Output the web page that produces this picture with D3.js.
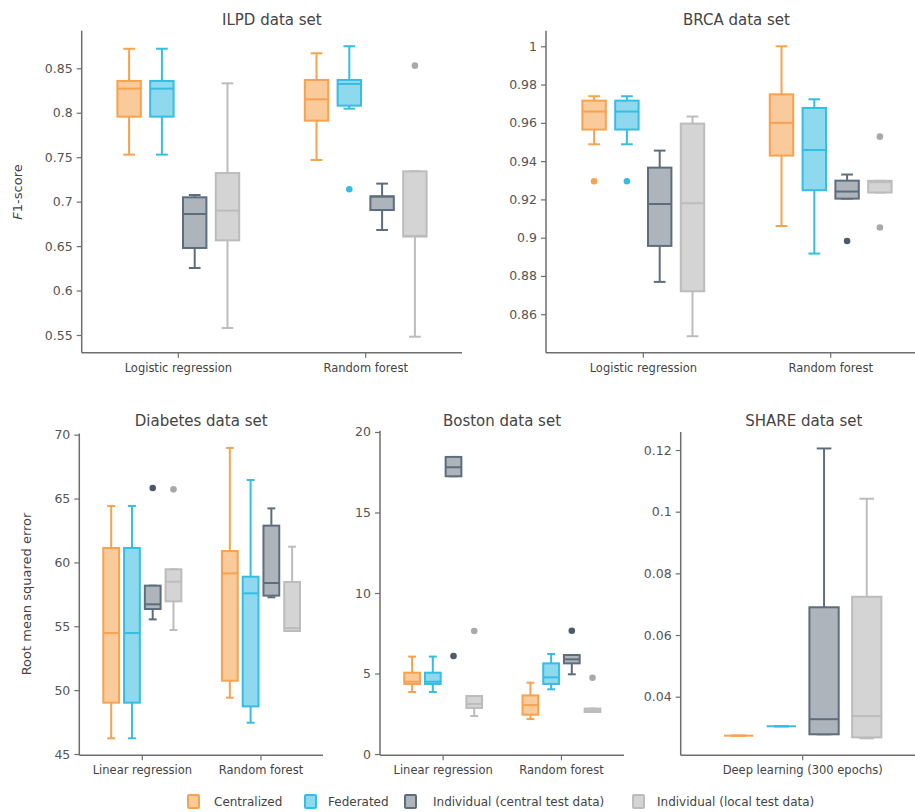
<!DOCTYPE html>
<html>
<head>
<meta charset="utf-8">
<script src="https://cdn.jsdelivr.net/npm/d3@7"></script>
<style>
  html, body { margin: 0; padding: 0; background: #fff; }
  svg { display: block; font-family: "DejaVu Sans", Verdana, sans-serif; }
</style>
</head>
<body>
<svg id="chart" width="915" height="812"></svg>
<script>
// ---- Data: box summaries [lower whisker, Q1, median, Q3, upper whisker] ----
const series = ["Centralized", "Federated", "Individual (central test data)", "Individual (local test data)"];

const classMethods = ["Logistic regression", "Random forest"];
const regMethods = ["Linear regression", "Random forest"];
const dlMethods = ["Deep learning (300 epochs)"];

// ILPD (F1-score); one row per method, one entry per series
const ilpdStats = [
  [[0.7529, 0.7956, 0.8271, 0.8358, 0.8720], [0.7529, 0.7956, 0.8271, 0.8358, 0.8720],
   [0.6254, 0.6479, 0.6861, 0.7049, 0.7075], [0.5579, 0.6565, 0.6899, 0.7322, 0.8331]],
  [[0.7469, 0.7911, 0.8151, 0.8369, 0.8669], [0.8046, 0.8080, 0.8324, 0.8369, 0.8748],
   [0.6681, 0.6906, 0.7057, 0.7060, 0.7203], [0.5481, 0.6607, 0.6615, 0.7341, 0.7341]]
];
const ilpdOutliers = [
  [[], [], [], []],
  [[], [0.7139], [], [0.8530]]
];

// BRCA (F1-score)
const brcaStats = [
  [[0.9488, 0.9565, 0.9659, 0.9716, 0.9739], [0.9488, 0.9565, 0.9659, 0.9716, 0.9739],
   [0.8769, 0.8957, 0.9176, 0.9366, 0.9455], [0.8485, 0.8720, 0.9180, 0.9596, 0.9633]],
  [[0.9061, 0.9429, 0.9600, 0.9749, 1.0000], [0.8917, 0.9248, 0.9458, 0.9678, 0.9723],
   [0.9204, 0.9204, 0.9241, 0.9298, 0.9330], [0.9236, 0.9236, 0.9290, 0.9297, 0.9297]]
];
const brcaOutliers = [
  [[0.9295], [0.9295], [], []],
  [[], [], [0.8983], [0.9528, 0.9053]]
];

// Diabetes (RMSE)
const diabetesStats = [
  [[46.23, 49.02, 54.47, 61.13, 64.42], [46.23, 49.02, 54.47, 61.13, 64.42],
   [55.54, 56.35, 56.72, 58.18, 58.18], [54.71, 56.95, 58.49, 59.46, 59.46]],
  [[49.41, 50.74, 59.14, 60.89, 68.96], [47.45, 48.73, 57.58, 58.88, 66.45],
   [57.27, 57.40, 58.39, 62.88, 64.23], [54.63, 54.63, 54.86, 58.47, 61.23]]
];
const diabetesOutliers = [
  [[], [], [65.82], [65.72]],
  [[], [], [], []]
];

// Boston (RMSE)
const bostonStats = [
  [[3.85, 4.35, 4.49, 5.05, 6.05], [3.85, 4.35, 4.49, 5.05, 6.05],
   [17.25, 17.25, 17.81, 18.45, 18.45], [2.36, 2.86, 3.11, 3.60, 3.60]],
  [[2.17, 2.44, 3.04, 3.64, 4.43], [4.02, 4.35, 4.76, 5.63, 6.21],
   [4.95, 5.63, 5.88, 6.15, 6.15], [2.61, 2.61, 2.71, 2.82, 2.82]]
];
const bostonOutliers = [
  [[], [], [6.09], [7.64]],
  [[], [], [7.66], [4.74]]
];

// SHARE (RMSE)
const shareStats = [
  [[0.02735, 0.02735, 0.02735, 0.02735, 0.02735], [0.0304, 0.0304, 0.0304, 0.0304, 0.0304],
   [0.0278, 0.0278, 0.0327, 0.0690, 0.1205], [0.0265, 0.0268, 0.0337, 0.0724, 0.1042]]
];
const shareOutliers = [
  [[], [], [], []]
];

const ilpdTicks = [0.55, 0.6, 0.65, 0.7, 0.75, 0.8, 0.85];
const brcaTicks = [0.86, 0.88, 0.9, 0.92, 0.94, 0.96, 0.98, 1];
const diabetesTicks = [45, 50, 55, 60, 65, 70];
const bostonTicks = [0, 5, 10, 15, 20];
const shareTicks = [0.04, 0.06, 0.08, 0.1, 0.12];

// ---- Styles ----
const strokeColors = ["#f7a24e", "#35bde4", "#5d6d7c", "#bcbcbc"];
const fillColors = ["#f9ca9a", "#8fd9ee", "#adb4bb", "#d4d4d4"];
const outlierColors = ["#f7a24e", "#35bde4", "#4c5b6a", "#a9a9a9"];
const textColor = "#444";
const axisColor = "#6e6e6e";

const svg = d3.select("#chart");

function panel(cfg) {
  const g = svg.append("g");
  const x = d3.scaleBand().domain(cfg.methods).range(cfg.xRange).padding(0);
  const y = d3.scaleLinear().domain(cfg.yDomain).range([cfg.yBottom, cfg.yTop]);

  // y axis
  const yAxis = d3.axisLeft(y).tickValues(cfg.ticks).tickSize(5).tickPadding(4)
    .tickFormat(d3.format(cfg.fmt));
  const ya = g.append("g").attr("transform", `translate(${cfg.axisX},0)`).call(yAxis);
  ya.select(".domain").remove();
  ya.append("line").attr("x1", 0).attr("x2", 0).attr("y1", cfg.yTop).attr("y2", cfg.yBottom)
    .attr("stroke", axisColor).attr("stroke-width", 1.5);
  ya.selectAll(".tick line").attr("stroke", axisColor).attr("stroke-width", 1.2);
  ya.selectAll(".tick text").attr("fill", "#555").attr("font-size", 12.5)
    .attr("font-family", "DejaVu Sans, Verdana, sans-serif");

  // x axis
  const xAxis = d3.axisBottom(x).tickSize(5).tickPadding(6);
  const xa = g.append("g").attr("transform", `translate(0,${cfg.yBottom})`).call(xAxis);
  xa.select(".domain").remove();
  xa.append("line").attr("x1", cfg.axisX).attr("x2", cfg.xLineEnd).attr("y1", 0).attr("y2", 0)
    .attr("stroke", axisColor).attr("stroke-width", 1.5);
  xa.selectAll(".tick line").attr("stroke", axisColor).attr("stroke-width", 1.2);
  xa.selectAll(".tick text").attr("fill", textColor).attr("font-size", 11.5)
    .attr("font-family", "DejaVu Sans, Verdana, sans-serif");

  // title
  g.append("text").attr("x", (cfg.axisX + cfg.xLineEnd) / 2).attr("y", cfg.titleY)
    .attr("text-anchor", "middle").attr("font-size", 15).attr("fill", textColor).text(cfg.title);

  const bw = x.bandwidth();
  const step = bw * 0.175;
  const boxW = bw * cfg.boxFrac;

  cfg.methods.forEach((m, mi) => {
    const cx0 = x(m) + bw / 2;
    series.forEach((s, si) => {
      const st = cfg.stats[mi][si];
      const cx = cx0 + (si - 1.5) * step;
      const [lo, q1, med, q3, hi] = st;
      const bg = g.append("g");
      const sc = strokeColors[si];
      // whiskers
      if (hi > q3) {
        bg.append("line").attr("x1", cx).attr("x2", cx).attr("y1", y(q3)).attr("y2", y(hi))
          .attr("stroke", sc).attr("stroke-width", 2);
      }
      if (lo < q1) {
        bg.append("line").attr("x1", cx).attr("x2", cx).attr("y1", y(q1)).attr("y2", y(lo))
          .attr("stroke", sc).attr("stroke-width", 2);
      }
      [lo, hi].forEach(v => {
        bg.append("line").attr("x1", cx - boxW / 4).attr("x2", cx + boxW / 4)
          .attr("y1", y(v)).attr("y2", y(v)).attr("stroke", sc).attr("stroke-width", 2);
      });
      // box
      bg.append("rect").attr("x", cx - boxW / 2).attr("width", boxW)
        .attr("y", y(q3)).attr("height", Math.max(0, y(q1) - y(q3)))
        .attr("fill", fillColors[si]).attr("stroke", sc).attr("stroke-width", 2);
      // median
      bg.append("line").attr("x1", cx - boxW / 2).attr("x2", cx + boxW / 2)
        .attr("y1", y(med)).attr("y2", y(med)).attr("stroke", sc).attr("stroke-width", 2);
      // outliers
      cfg.outliers[mi][si].forEach(v => {
        bg.append("circle").attr("cx", cx).attr("cy", y(v)).attr("r", 3.3)
          .attr("fill", outlierColors[si]);
      });
    });
  });
}

panel({ title: "ILPD data set", methods: classMethods, stats: ilpdStats, outliers: ilpdOutliers,
  ticks: ilpdTicks, fmt: "", yDomain: [0.5301, 0.8923], yTop: 30.7, yBottom: 352.7,
  axisX: 81.7, xRange: [84.6, 459.4], xLineEnd: 462, titleY: 25, boxFrac: 0.125 });

panel({ title: "BRCA data set", methods: classMethods, stats: brcaStats, outliers: brcaOutliers,
  ticks: brcaTicks, fmt: "", yDomain: [0.8399, 1.00815], yTop: 30.7, yBottom: 352.7,
  axisX: 546, xRange: [549.6, 924.4], xLineEnd: 927, titleY: 25, boxFrac: 0.125 });

panel({ title: "Diabetes data set", methods: regMethods, stats: diabetesStats, outliers: diabetesOutliers,
  ticks: diabetesTicks, fmt: "", yDomain: [44.9, 70.1], yTop: 433.4, yBottom: 755.3,
  axisX: 79.3, xRange: [83, 320.3], xLineEnd: 323, titleY: 426, boxFrac: 0.133 });

panel({ title: "Boston data set", methods: regMethods, stats: bostonStats, outliers: bostonOutliers,
  ticks: bostonTicks, fmt: "", yDomain: [-0.08, 20.08], yTop: 430.7, yBottom: 755.3,
  axisX: 380, xRange: [384, 620.6], xLineEnd: 624, titleY: 426, boxFrac: 0.133 });

panel({ title: "SHARE data set", methods: dlMethods, stats: shareStats, outliers: shareOutliers,
  ticks: shareTicks, fmt: "", yDomain: [0.02099, 0.12584], yTop: 432, yBottom: 755.3,
  axisX: 680.7, xRange: [680.7, 924.7], xLineEnd: 927, titleY: 426, boxFrac: 0.12 });

// y-axis titles
const f1 = svg.append("text").attr("transform", "translate(22,192) rotate(-90)")
  .attr("text-anchor", "middle").attr("font-size", 13).attr("fill", textColor);
f1.append("tspan").attr("font-style", "italic").text("F");
f1.append("tspan").text("1-score");

svg.append("text").attr("transform", "translate(31,594) rotate(-90)")
  .attr("text-anchor", "middle").attr("font-size", 13).attr("fill", textColor)
  .text("Root mean squared error");

// legend
const legendSwatchX = [188, 305, 405, 633];
const legendTextX = [214, 328, 433, 657];
const legend = svg.append("g");
series.forEach((s, i) => {
  const lg = legend.append("g");
  lg.append("rect").attr("x", legendSwatchX[i]).attr("y", 795).attr("width", 11).attr("height", 13)
    .attr("rx", 1).attr("fill", fillColors[i]).attr("stroke", strokeColors[i]).attr("stroke-width", 2);
  lg.append("text").attr("x", legendTextX[i]).attr("y", 806).attr("font-size", 12)
    .attr("fill", textColor).text(s);
});
</script>
</body>
</html>
